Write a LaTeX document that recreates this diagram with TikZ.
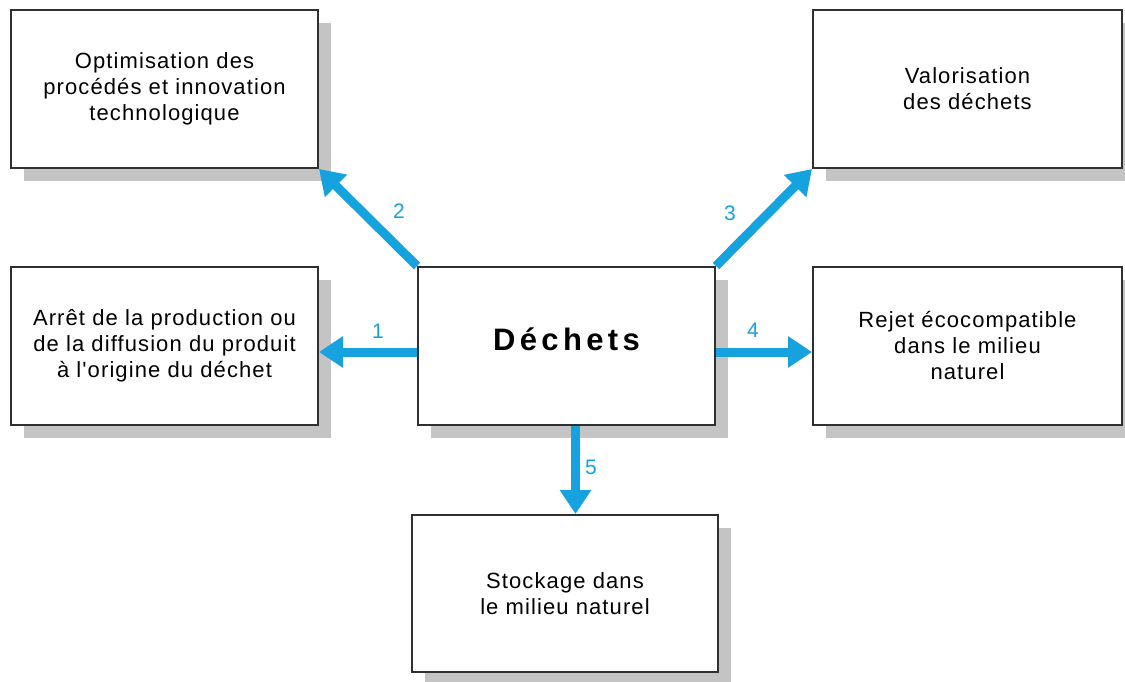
\documentclass[tikz,border=0pt]{standalone}
\usepackage{fontspec}
\setmainfont{Liberation Sans}
\newfontfamily\boxfont[LetterSpace=5]{Liberation Sans}
\newfontfamily\bigfont[LetterSpace=14]{Liberation Sans}
\usetikzlibrary{arrows.meta,shadows}
\definecolor{arrowblue}{HTML}{16A2DE}
\definecolor{shadowgray}{HTML}{C4C4C4}
\definecolor{boxline}{HTML}{303030}
\begin{document}
\begin{tikzpicture}[x=1pt,y=-1pt,
  box/.style={draw=boxline, line width=2pt, fill=white,
    minimum width=307pt, minimum height=158pt, align=center, inner sep=0pt,
    font=\boxfont\fontsize{22}{26}\selectfont,
    drop shadow={shadow xshift=13pt, shadow yshift=-13pt, fill=shadowgray, opacity=1}},
  bigarrow/.style={draw=arrowblue, line width=9pt,
    -{Triangle[length=24pt,width=30pt]}, color=arrowblue},
  numlab/.style={text=arrowblue, font=\fontsize{21}{21}\selectfont, inner sep=0pt}]
\useasboundingbox (0,0) rectangle (1125,681);
\fill[white] (0,0) rectangle (1125,681);

\node[box] (opt) at (164.5,89) {Optimisation des\\procédés et innovation\\technologique};
\node[box] (arret) at (164.5,346) {Arrêt de la production ou\\de la diffusion du produit\\à l'origine du déchet};
\node[box, minimum width=297pt, font=\bigfont\bfseries\fontsize{31}{31}\selectfont,
  text height=20pt, text depth=12pt] (dech) at (566.5,346) {Déchets};
\node[box, minimum width=309pt] (val) at (967.5,89) {Valorisation\\des déchets};
\node[box, minimum width=309pt] (rejet) at (967.5,346) {Rejet écocompatible\\dans le milieu\\naturel};
\node[box, minimum width=306pt, minimum height=157pt] (stock) at (565,593.5) {Stockage dans\\le milieu naturel};

\draw[bigarrow] ([yshift=-6pt]dech.west) -- ([yshift=-6pt]dech.west -| arret.east);
\draw[bigarrow] (dech.north west) -- (opt.south east);
\draw[bigarrow] (dech.north east) -- (val.south west);
\draw[bigarrow] ([yshift=-6pt]dech.east) -- ([yshift=-6pt]dech.east -| rejet.west);
\draw[bigarrow] ([xshift=9pt]dech.south) -- ([xshift=9pt]dech.south |- stock.north);

\node[numlab] (n1) at (378,331) {1};
\node[numlab] (n2) at (399,211) {2};
\node[numlab] (n3) at (730,213) {3};
\node[numlab] (n4) at (753,330) {4};
\node[numlab] (n5) at (591,467) {5};
\end{tikzpicture}
\end{document}
